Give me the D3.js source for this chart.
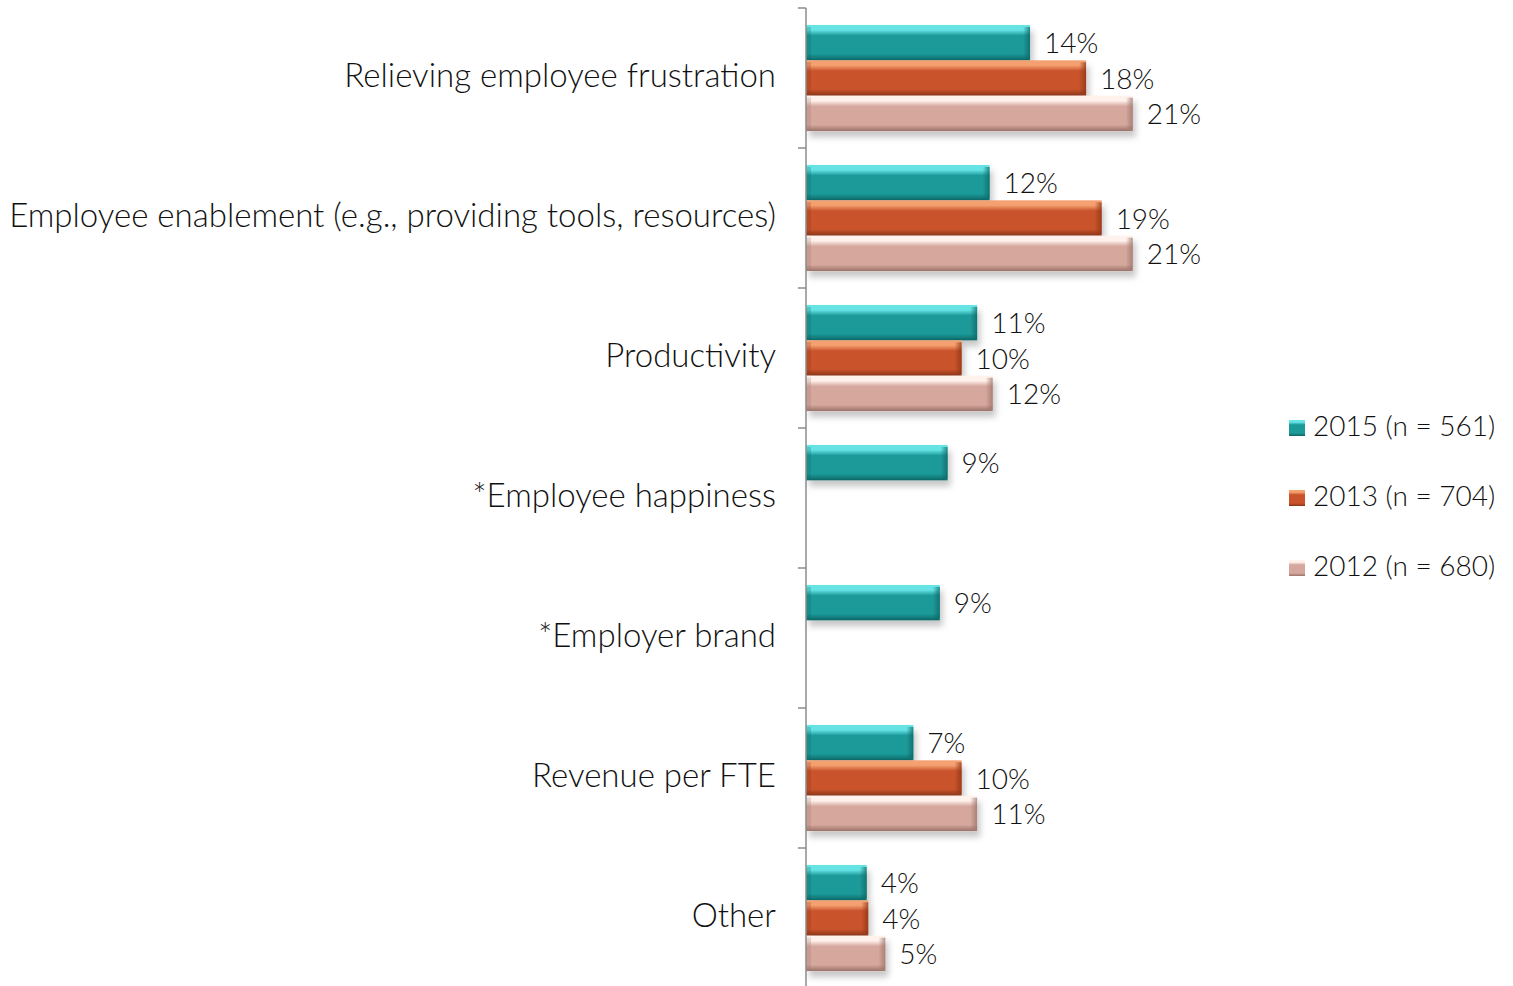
<!DOCTYPE html>
<html>
<head>
<meta charset="utf-8">
<script src="https://cdn.jsdelivr.net/npm/d3@7"></script>
<style>
  html, body { margin: 0; padding: 0; background: #fff; }
  svg { display: block; }
  text { font-family: "Lato", "Open Sans", sans-serif; fill: #111; font-weight: 300; }
</style>
</head>
<body>
<svg id="chart" width="1513" height="986"></svg>
<script>
const categories = [
  "Relieving employee frustration",
  "Employee enablement (e.g., providing tools, resources)",
  "Productivity",
  "*Employee happiness",
  "*Employer brand",
  "Revenue per FTE",
  "Other"
];
const seriesNames = ["2015 (n = 561)", "2013 (n = 704)", "2012 (n = 680)"];
const values2015 = [14.4, 11.8, 11.0, 9.1, 8.6, 6.9, 3.9];
const values2013 = [18.0, 19.0, 10.0, null, null, 10.0, 4.0];
const values2012 = [21.0, 21.0, 12.0, null, null, 11.0, 5.1];
const seriesValues = [values2015, values2013, values2012];

const palette = [
  { light: "#66e4e5", main: "#1a9a99", dark: "#0d6664" },
  { light: "#f5a070", main: "#c9532b", dark: "#8a3418" },
  { light: "#fff2ec", main: "#d6a89d", dark: "#9a726a" }
];

const svg = d3.select("#chart");
const defs = svg.append("defs");

const f = defs.append("filter").attr("id", "shadow")
  .attr("x", "-10%").attr("y", "-20%").attr("width", "130%").attr("height", "160%");
f.append("feDropShadow").attr("dx", 3).attr("dy", 6).attr("stdDeviation", 3)
  .attr("flood-color", "#000").attr("flood-opacity", 0.22);

palette.forEach((p, i) => {
  const g = defs.append("linearGradient").attr("id", "grad" + i)
    .attr("x1", 0).attr("y1", 0).attr("x2", 0).attr("y2", 1);
  g.append("stop").attr("offset", "0%").attr("stop-color", p.light);
  g.append("stop").attr("offset", "14%").attr("stop-color", p.light);
  g.append("stop").attr("offset", "30%").attr("stop-color", p.main);
  g.append("stop").attr("offset", "82%").attr("stop-color", p.main);
  g.append("stop").attr("offset", "100%").attr("stop-color", p.dark);
  const h = defs.append("linearGradient").attr("id", "edge" + i)
    .attr("x1", 0).attr("y1", 0).attr("x2", 1).attr("y2", 0);
  h.append("stop").attr("offset", "0%").attr("stop-color", p.dark).attr("stop-opacity", 0);
  h.append("stop").attr("offset", "100%").attr("stop-color", p.dark).attr("stop-opacity", 0.75);
});

const axisX = 806;
const y0 = d3.scaleBand().domain(categories).range([8, 988]).paddingInner(0).paddingOuter(0);
const y1 = d3.scaleBand().domain(seriesNames).range([0, y0.bandwidth()]).paddingInner(0).paddingOuter(0.48);
const x = d3.scaleLinear().domain([0, 25]).range([axisX, axisX + 389]);

const rows = [];
categories.forEach((c, ci) => {
  seriesNames.forEach((s, si) => {
    const v = seriesValues[si][ci];
    if (v != null) rows.push({ c, s, si, v });
  });
});

const bars = svg.append("g");
const bh = y1.bandwidth();
const groups = bars.selectAll("g.bar").data(rows).join("g").attr("class", "bar");
groups.append("rect")
  .attr("x", x(0))
  .attr("y", d => y0(d.c) + y1(d.s))
  .attr("width", d => x(d.v) - x(0))
  .attr("height", bh)
  .attr("fill", d => `url(#grad${d.si})`)
  .attr("filter", "url(#shadow)");
groups.append("rect")
  .attr("x", d => x(d.v) - 7)
  .attr("y", d => y0(d.c) + y1(d.s) + 2)
  .attr("width", 7)
  .attr("height", bh - 4)
  .attr("fill", d => `url(#edge${d.si})`);
groups.append("rect")
  .attr("x", x(0))
  .attr("y", d => y0(d.c) + y1(d.s) + 2)
  .attr("width", 5)
  .attr("height", bh - 4)
  .attr("fill", d => palette[d.si].dark)
  .attr("opacity", 0.25);

svg.append("g").selectAll("text").data(rows).join("text")
  .attr("x", d => x(d.v) + 14)
  .attr("y", d => y0(d.c) + y1(d.s) + bh / 2 + 1)
  .attr("dy", "0.35em")
  .attr("font-size", 28)
  .text(d => Math.round(d.v) + "%");

const axG = svg.append("g").attr("transform", `translate(${axisX},0)`);
axG.append("line").attr("x1", 0).attr("x2", 0).attr("y1", 8).attr("y2", 986)
  .attr("stroke", "#8c8c8c").attr("stroke-width", 1.5);
axG.selectAll("line.tick").data(d3.range(categories.length + 1)).join("line")
  .attr("class", "tick")
  .attr("x1", -8).attr("x2", 0)
  .attr("y1", i => i < categories.length ? y0(categories[i]) : y0.range()[1])
  .attr("y2", i => i < categories.length ? y0(categories[i]) : y0.range()[1])
  .attr("stroke", "#8c8c8c").attr("stroke-width", 1.5);

svg.append("g").selectAll("text").data(categories).join("text")
  .attr("x", axisX - 30)
  .attr("y", d => y0(d) + y0.bandwidth() / 2 - 3)
  .attr("dy", "0.35em")
  .attr("text-anchor", "end")
  .attr("font-size", 33)
  .text(d => d);

const legend = svg.append("g").attr("transform", "translate(1289,426)");
const li = legend.selectAll("g").data(seriesNames).join("g")
  .attr("transform", (d, i) => `translate(0,${i * 70})`);
li.append("rect").attr("x", 0).attr("y", -6).attr("width", 16).attr("height", 16)
  .attr("fill", (d, i) => `url(#grad${i})`);
li.append("text").attr("x", 24).attr("y", 0).attr("dy", "0.35em")
  .attr("font-size", 28).text(d => d);
</script>
</body>
</html>
